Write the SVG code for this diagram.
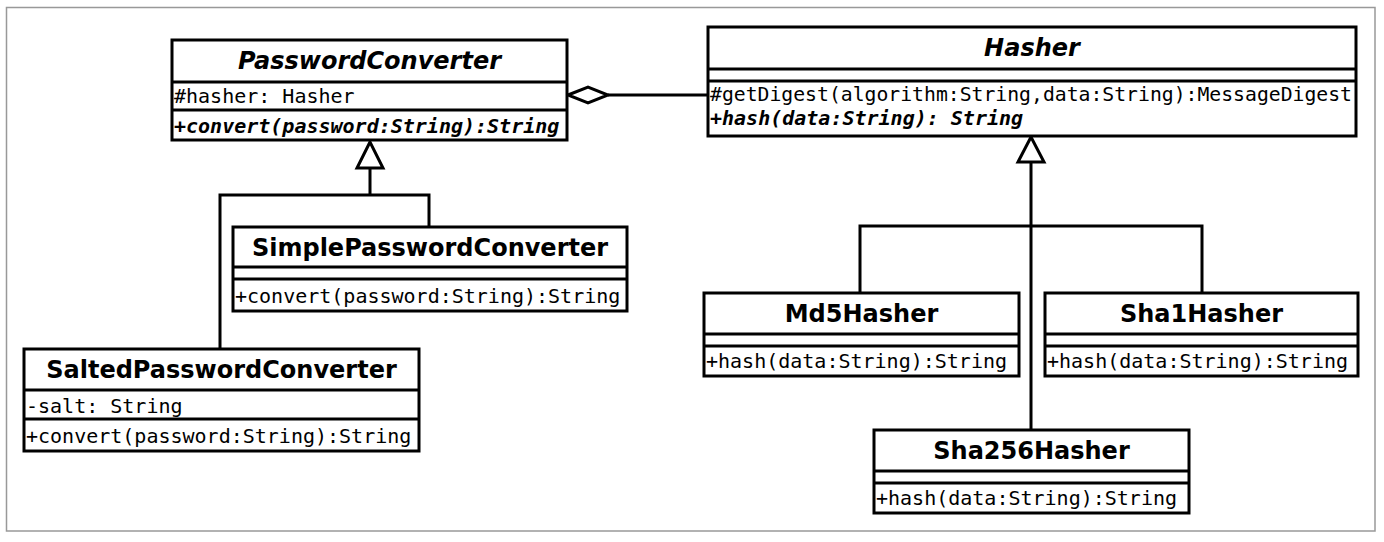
<svg xmlns="http://www.w3.org/2000/svg" width="1384" height="542" viewBox="0 0 1384 542">
<style>
.box{fill:#fff;stroke:#000;stroke-width:3}
.div{stroke:#000;stroke-width:3;fill:none}
.t{font-family:"DejaVu Sans",sans-serif;font-weight:bold;font-size:24px;text-anchor:middle;fill:#000}
.ti{font-style:italic}
.m{font-family:"DejaVu Sans Mono",monospace;font-size:20px;fill:#000}
.mi{font-weight:bold;font-style:italic}
.c{stroke:#000;stroke-width:3;fill:none}
.tri{fill:#fff;stroke:#000;stroke-width:3}
</style>
<rect x="0" y="0" width="1384" height="542" fill="#fff"/>
<rect x="6.5" y="7.5" width="1368.5" height="523.5" fill="none" stroke="#999" stroke-width="1.5"/>

<g id="connectors">
  <path class="c" d="M370 168 V195 M220 349 V195 H429 V227"/>
  <polygon class="tri" points="370,142 357,168 383,168"/>
  <path class="c" d="M1031 162 V430 M860 293 V226 H1202 V293"/>
  <polygon class="tri" points="1031,137 1018,162 1044,162"/>
  <path class="c" d="M608 95 H707"/>
  <polygon class="tri" points="568,95 588,87 608,95 588,103"/>
</g>

<g id="PasswordConverter">
  <rect class="box" x="172" y="40" width="395" height="100"/>
  <path class="div" d="M172 82 H567 M172 110 H567"/>
  <text class="t ti" x="369.5" y="69">PasswordConverter</text>
  <text class="m" x="174" y="103">#hasher: Hasher</text>
  <text class="m mi" x="174" y="133">+convert(password:String):String</text>
</g>

<g id="Hasher">
  <rect class="box" x="708" y="27" width="648" height="109"/>
  <path class="div" d="M708 69 H1356 M708 81 H1356"/>
  <text class="t ti" x="1032" y="56">Hasher</text>
  <text class="m" x="710" y="101" textLength="642" lengthAdjust="spacingAndGlyphs">#getDigest(algorithm:String,data:String):MessageDigest</text>
  <text class="m mi" x="710" y="125">+hash(data:String): String</text>
</g>

<g id="SimplePasswordConverter">
  <rect class="box" x="233" y="227" width="394" height="84"/>
  <path class="div" d="M233 267 H627 M233 279 H627"/>
  <text class="t" x="430" y="256">SimplePasswordConverter</text>
  <text class="m" x="235" y="303">+convert(password:String):String</text>
</g>

<g id="SaltedPasswordConverter">
  <rect class="box" x="24" y="349" width="395" height="102"/>
  <path class="div" d="M24 390 H419 M24 419 H419"/>
  <text class="t" x="221.5" y="378">SaltedPasswordConverter</text>
  <text class="m" x="26" y="413">-salt: String</text>
  <text class="m" x="26" y="443">+convert(password:String):String</text>
</g>

<g id="Md5Hasher">
  <rect class="box" x="704" y="293" width="315" height="83"/>
  <path class="div" d="M704 334 H1019 M704 346 H1019"/>
  <text class="t" x="861.5" y="322">Md5Hasher</text>
  <text class="m" x="706" y="368">+hash(data:String):String</text>
</g>

<g id="Sha1Hasher">
  <rect class="box" x="1045" y="293" width="313" height="83"/>
  <path class="div" d="M1045 334 H1358 M1045 346 H1358"/>
  <text class="t" x="1201.5" y="322">Sha1Hasher</text>
  <text class="m" x="1047" y="368">+hash(data:String):String</text>
</g>

<g id="Sha256Hasher">
  <rect class="box" x="874" y="430" width="315" height="83"/>
  <path class="div" d="M874 471 H1189 M874 483 H1189"/>
  <text class="t" x="1031.5" y="459">Sha256Hasher</text>
  <text class="m" x="876" y="505">+hash(data:String):String</text>
</g>
</svg>
